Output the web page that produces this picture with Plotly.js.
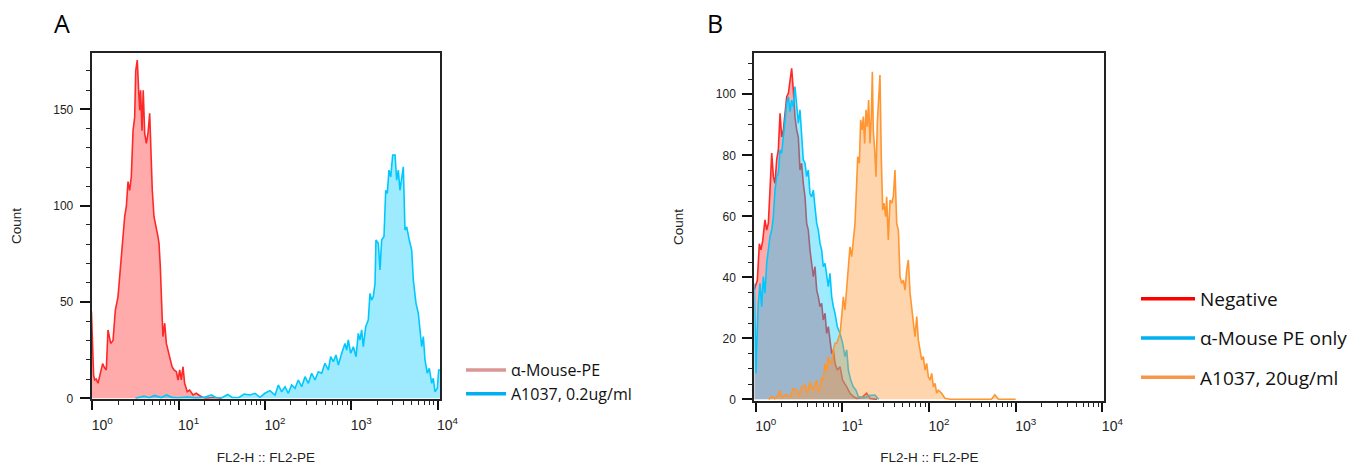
<!DOCTYPE html>
<html><head><meta charset="utf-8">
<script src="https://cdn.plot.ly/plotly-3.0.1.min.js"></script>
<style>html,body{margin:0;padding:0;background:#fff;} #chart{width:1361px;height:465px;}</style>
</head><body><div id="chart"></div>
<script>
// ---------- Panel A : x positions are log10(FL2-PE intensity), y = count ----------
const aMouseA_log = [-0.01,0.015,0.028,0.045,0.066,0.085,0.104,0.12,0.14,0.162,0.182,0.2,0.213,0.24,0.267,0.298,0.317,0.336,0.356,0.375,0.394,0.414,0.433,0.452,0.472,0.491,0.503,0.521,0.537,0.549,0.56,0.576,0.59,0.607,0.626,0.645,0.665,0.676,0.695,0.715,0.742,0.761,0.773,0.788,0.808,0.819,0.839,0.858,0.877,0.897,0.924,0.947,0.974,0.993,1.013,1.031,1.051,1.07,1.1,1.128,1.167,1.205,1.263,1.32,1.4,1.5];
const aMouseA_cnt = [45,12,9.5,10,7.8,12,14.7,18,16,14.7,35.5,30,28.5,30,45.8,52.8,63,73.5,82,94.3,99.5,112.5,108,115,139,146,170,175.6,160,149.6,160,139,160,137.6,132.4,137.6,148,130.6,108,94.3,89,84,80.5,68.3,44,32,39,28.5,25,21.6,16.4,14.7,13.8,9.5,14.7,9.5,16.4,7.8,3.4,4.3,1.7,2.6,0.8,0,0.5,0];

const a1037A_log = [0.5,0.6,0.66,0.72,0.8,0.86,0.92,1.0,1.1,1.2,1.3,1.38,1.43,1.5,1.57,1.62,1.7,1.76,1.827,1.885,1.943,2.0,2.058,2.117,2.156,2.194,2.233,2.271,2.31,2.349,2.387,2.426,2.465,2.503,2.542,2.58,2.619,2.658,2.696,2.735,2.762,2.793,2.824,2.851,2.89,2.928,2.948,2.966,2.994,3.025,3.056,3.082,3.102,3.121,3.14,3.168,3.198,3.218,3.237,3.256,3.276,3.287,3.314,3.334,3.353,3.38,3.4,3.418,3.438,3.458,3.481,3.508,3.527,3.546,3.565,3.585,3.604,3.623,3.643,3.673,3.701,3.72,3.751,3.778,3.797,3.817,3.836,3.855,3.882,3.905,3.933,3.951,3.971,3.998,4.014,4.03];
const a1037A_cnt = [0,1.2,0.3,1.5,0.4,1.8,0.5,0.3,0.6,0.2,0.5,1.8,0.4,0.3,2.0,0.5,0.4,2.2,1.7,2.6,0.5,2.6,4,1.7,6.9,3.4,6,2.6,6.9,5.2,9.5,6,11.2,7.8,13,9.5,13.8,13,18.2,14.7,21.6,19,22.5,17.3,23.4,28.5,25,30.3,23.4,26.8,21.6,33.7,30.3,35.5,26.8,37.2,40.7,54.5,51,52.8,59.7,82.2,80.5,66.6,82.2,84,108,106.4,118.5,115,126.3,126.3,113.3,118.5,108,115,120.2,87.4,89,82.2,77,61.4,49.3,44.1,33.7,26.8,32,19.9,13,15.6,7.8,10.4,3.4,5.2,14.7,14.7];

// ---------- Panel B ----------
const negB_log = [-0.016,0.003,0.019,0.042,0.061,0.081,0.107,0.127,0.146,0.165,0.185,0.204,0.223,0.242,0.261,0.281,0.3,0.319,0.338,0.358,0.377,0.396,0.415,0.434,0.453,0.473,0.492,0.511,0.53,0.549,0.569,0.588,0.607,0.626,0.646,0.665,0.684,0.704,0.723,0.742,0.761,0.78,0.8,0.819,0.838,0.857,0.877,0.896,0.915,0.942,0.973,1.003,1.03,1.05,1.088,1.126,1.165,1.22,1.28,1.32,1.4];
const negB_cnt = [36,38,39,51,49,52,58.8,55.5,57.7,68.6,80.7,73,70.8,78.5,81.7,93.8,86,88.3,92.7,99.2,100.3,104.7,108.5,101.4,92.7,88.3,86,75.2,77.4,70.8,66.4,57.7,55.5,49,44.6,40.2,43.5,35.8,33.6,30.4,31.5,26,28.2,21.6,23.8,18.4,15,16.2,11.8,9.6,10.7,6.3,5.2,4.1,2,0.9,0.3,0.5,2,0.3,0];

const aMouseB_log = [-0.016,0.003,0.01,0.03,0.05,0.069,0.088,0.107,0.127,0.146,0.165,0.185,0.204,0.223,0.242,0.261,0.281,0.3,0.319,0.338,0.358,0.377,0.396,0.415,0.434,0.453,0.473,0.492,0.511,0.53,0.549,0.569,0.588,0.607,0.626,0.646,0.665,0.684,0.704,0.723,0.742,0.761,0.78,0.8,0.819,0.838,0.857,0.877,0.896,0.915,0.942,0.973,1.003,1.03,1.05,1.069,1.096,1.126,1.157,1.184,1.25,1.3,1.376,1.42];
const aMouseB_cnt = [38,8.5,16,31.5,38,30.4,40.2,34.8,44.6,49,53.3,55.5,59.9,68.6,73,74.1,81.7,80.7,86,89.4,97,99.2,94.3,98.1,95.9,102.5,94.9,90.5,94.9,86,78.5,77.4,73,75.2,67.5,66.4,68.6,63.1,57.7,55.5,51.1,49,43.5,44.6,40.2,36.9,41.3,33.6,30.4,28.2,23.8,21.6,18.4,14,16.2,9.6,6.3,4.1,3,0.9,0.5,1.2,1.4,0];

const a1037B_log = [0.15,0.185,0.22,0.26,0.281,0.3,0.35,0.4,0.43,0.473,0.5,0.53,0.569,0.6,0.626,0.66,0.704,0.723,0.742,0.76,0.78,0.8,0.819,0.838,0.857,0.877,0.896,0.915,0.935,0.955,0.973,0.992,1.011,1.03,1.05,1.069,1.088,1.108,1.126,1.146,1.165,1.177,1.196,1.211,1.227,1.242,1.257,1.273,1.288,1.303,1.319,1.334,1.346,1.357,1.373,1.388,1.403,1.419,1.434,1.449,1.465,1.48,1.5,1.511,1.53,1.55,1.569,1.588,1.607,1.627,1.646,1.665,1.685,1.704,1.723,1.742,1.761,1.781,1.8,1.819,1.838,1.858,1.877,1.896,1.915,1.934,1.954,1.973,1.992,2.011,2.031,2.05,2.069,2.088,2.107,2.146,2.184,2.242,2.5,2.72,2.76,2.8,3.0];
const a1037B_cnt = [0,0.9,0.2,1.5,3,0.5,1.5,0.8,3.5,3,1,4,4.7,2,5.8,3,6.3,2.5,3.5,7,6.3,11.8,9.6,14,12,11.8,16.2,18.4,18.4,20.5,21.6,27.1,33.6,29.3,35.8,44.6,50,46.8,53.3,57.7,70.8,79.5,77.4,91.6,88.3,92.7,83.9,94.9,89.4,98.1,83.9,92.7,107.4,88.3,81.7,73,90.5,97,106.3,79.5,62,64.3,59.9,66.4,52.2,65.3,64.3,66.4,75.2,57.7,55.5,40.2,38,39.1,35.8,42.4,45.7,34.8,30.4,24.9,20.5,27.1,19.4,16.2,12.9,14,9.6,11.8,7.4,6.3,8.5,4.1,5.2,2,3,2,0.3,0,0,0,1.5,0,0];

// ---------- labels ----------
const decadeVals = [1, 10, 100, 1000, 10000];
const decadeText = ['10<sup>0</sup>', '10<sup>1</sup>', '10<sup>2</sup>', '10<sup>3</sup>', '10<sup>4</sup>'];
const legendA = ['\u03b1-Mouse-PE', 'A1037, 0.2ug/ml'];
const legendB = ['Negative', '\u03b1-Mouse PE only', 'A1037, 20ug/ml'];
const xTitle = 'FL2-H :: FL2-PE';
const yTitle = 'Count';

// ---------- helpers ----------
const toLin = arr => arr.map(v => Math.pow(10, v));
const minorVals = [];
[1, 10, 100, 1000].forEach(d => { for (let k = 2; k <= 9; k++) minorVals.push(d * k); });

const RED = 'rgb(255,40,40)', RED_F = 'rgba(255,0,0,0.33)';
const BLUE = 'rgb(0,200,255)', BLUE_F = 'rgba(0,200,255,0.38)';
const ORG = 'rgb(255,150,50)', ORG_F = 'rgba(255,150,50,0.4)';

function hist(logs, cnts, line, fill, xa, ya) {
  return { x: toLin(logs), y: cnts, type: 'scatter', mode: 'lines', xaxis: xa, yaxis: ya,
    fill: 'tozeroy', fillcolor: fill, line: { color: line, width: 1.6 }, showlegend: false, hoverinfo: 'skip' };
}
function legItem(name, color, xa, ya, leg, grp) {
  return { x: [null], y: [null], type: 'scatter', mode: 'lines', name: name, xaxis: xa, yaxis: ya,
    legend: leg, legendgroup: grp, line: { color: color, width: 3.5 } };
}

const data = [
  hist(aMouseA_log, aMouseA_cnt, RED, RED_F, 'x', 'y'),
  hist(a1037A_log, a1037A_cnt, BLUE, BLUE_F, 'x', 'y'),
  hist(negB_log, negB_cnt, RED, RED_F, 'x2', 'y2'),
  hist(aMouseB_log, aMouseB_cnt, BLUE, BLUE_F, 'x2', 'y2'),
  hist(a1037B_log, a1037B_cnt, ORG, ORG_F, 'x2', 'y2'),
  legItem(legendA[0], '#d99694', 'x', 'y', 'legend', 'a1'),
  legItem(legendA[1], '#00b0f0', 'x', 'y', 'legend', 'a2'),
  legItem(legendB[0], '#ff0000', 'x2', 'y2', 'legend2', 'b1'),
  legItem(legendB[1], '#00b0f0', 'x2', 'y2', 'legend2', 'b2'),
  legItem(legendB[2], '#f79646', 'x2', 'y2', 'legend2', 'b3')
];

const W = 1361, H = 465;
const axFont = { family: 'Liberation Sans, Arial, sans-serif', size: 12, color: '#222' };
const titleFont = { family: 'Liberation Sans, Arial, sans-serif', size: 13.5, color: '#222' };
function xAxis(l, r, range) {
  return { type: 'log', domain: [l / W, r / W], range: range, showgrid: false, zeroline: false,
    showline: true, linewidth: 2, linecolor: '#222', mirror: true,
    ticks: 'outside', ticklen: 9, tickwidth: 2, tickcolor: '#111',
    tickmode: 'array', tickvals: decadeVals, ticktext: decadeText, ticklabelshift: 10, ticklabelstandoff: 3,
    tickfont: Object.assign({}, axFont, { size: 14 }),
    minor: { tickmode: 'array', tickvals: minorVals, ticks: 'outside', ticklen: 4, tickwidth: 1, tickcolor: '#222' },
    title: { text: xTitle, font: titleFont, standoff: 26 } };
}
function yAxis(b, t, range, vals, mdt) {
  return { domain: [1 - b / H, 1 - t / H], range: range, showgrid: false, zeroline: false,
    showline: true, linewidth: 2, linecolor: '#222', mirror: true,
    ticks: 'outside', ticklen: 10, tickwidth: 2, tickcolor: '#111',
    tickmode: 'array', tickvals: vals, tickfont: axFont, ticklabelstandoff: 4,
    minor: { dtick: mdt, ticks: 'outside', ticklen: 4, tickwidth: 1, tickcolor: '#222' },
    title: { text: yTitle, font: titleFont, standoff: 29 } };
}

const layout = {
  width: W, height: H, margin: { l: 0, r: 0, t: 0, b: 0 },
  paper_bgcolor: '#fff', plot_bgcolor: '#fff',
  xaxis: xAxis(91.7, 440, [-0.007, 4.029]),
  yaxis: yAxis(398.8, 53, [-0.26, 179.3], [0, 50, 100, 150], 10),
  xaxis2: Object.assign(xAxis(754.3, 1104.3, [-0.016, 4.022]), { anchor: 'y2' }),
  yaxis2: Object.assign(yAxis(400.5, 53.3, [-0.39, 113.44], [0, 20, 40, 60, 80, 100], 5), { anchor: 'x2' }),
  legend: { x: 461 / W, y: 1 - 353 / H, xanchor: 'left', yanchor: 'top', bgcolor: 'rgba(0,0,0,0)',
    font: { family: 'Open Sans, sans-serif', size: 16, color: '#111' }, itemwidth: 40,
    traceorder: 'normal', tracegroupgap: 0 },
  legend2: { x: 1136 / W, y: 1 - 280 / H, xanchor: 'left', yanchor: 'top', bgcolor: 'rgba(0,0,0,0)',
    font: { family: 'Open Sans, sans-serif', size: 19, color: '#111' }, itemwidth: 54,
    traceorder: 'grouped', tracegroupgap: 11.5 },
  annotations: [
    { text: 'A', xref: 'paper', yref: 'paper', x: 52 / W, y: 1 - 23 / H, xanchor: 'left', yanchor: 'middle', showarrow: false,
      font: { family: 'Open Sans, sans-serif', size: 25, color: '#000' } },
    { text: 'B', xref: 'paper', yref: 'paper', x: 705 / W, y: 1 - 23 / H, xanchor: 'left', yanchor: 'middle', showarrow: false,
      font: { family: 'Open Sans, sans-serif', size: 25, color: '#000' } }
  ]
};

Plotly.newPlot('chart', data, layout, { displayModeBar: false, staticPlot: true });
</script></body></html>
